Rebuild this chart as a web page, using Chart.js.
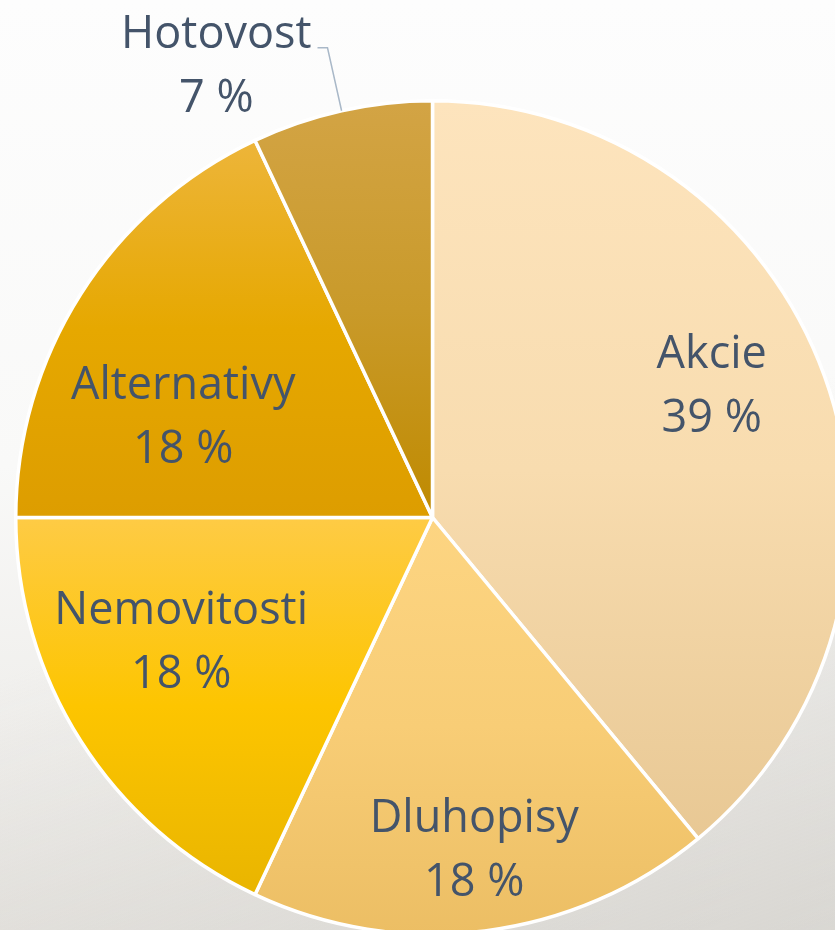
<!DOCTYPE html>
<html lang="cs">
<head>
<meta charset="utf-8">
<title>Alokace portfolia</title>
<script src="https://cdn.jsdelivr.net/npm/chart.js@4.4.1/dist/chart.umd.min.js"></script>
<style>
  html, body { margin: 0; padding: 0; width: 835px; height: 930px; overflow: hidden; }
  body {
    background:
      linear-gradient(160deg, rgba(255,255,255,0) 55%, rgba(205,203,198,0.55) 100%),
      linear-gradient(180deg, #fdfdfd 0%, #f9f9f8 50%, #e8e6e2 100%);
  }
  #wrap { position: absolute; left: 0; top: 0; width: 900px; height: 1000px; }
</style>
</head>
<body>
<div id="wrap"><canvas id="graf" width="900" height="1000"></canvas></div>
<script>
// data
const kategorie = ['Akcie', 'Dluhopisy', 'Nemovitosti', 'Alternativy', 'Hotovost'];
const podily = [39, 18, 18, 18, 7];
const barvyNahore = ['#fde4bd', '#fdd582', '#fecb45', '#edb53a', '#d3a445'];
const barvyStred  = ['#f8dcaf', '#f8cd76', '#fdc500', '#e6a800', '#c99a2a'];
const barvyDole   = ['#e8c894', '#ecbe64', '#e9b500', '#dd9d00', '#bf8a00'];

// umisteni popisku: podil polomeru a posun uhlu (stupne), posledni je venku s vodici carou
const popisPolomer = [0.743, 0.80, 0.671, 0.647, null];
const popisPosun = [-5.8, 0, 6.4, -10, 0];

const PISMO = '45px "Open Sans", sans-serif';
const TEXT = '#44546a';
const RADEK = 64;

function rozsahY(el) {
  // svisly rozsah vysece kvuli prechodu barvy
  let min = el.y, max = el.y;
  for (let i = 0; i <= 60; i++) {
    const a = el.startAngle + (el.endAngle - el.startAngle) * i / 60;
    const y = el.y + el.outerRadius * Math.sin(a);
    min = Math.min(min, y); max = Math.max(max, y);
  }
  return [min, max];
}

const prechody = {
  id: 'prechody',
  beforeDatasetsDraw(chart) {
    const ctx = chart.ctx;
    chart.getDatasetMeta(0).data.forEach((el, i) => {
      const [y0, y1] = rozsahY(el);
      const g = ctx.createLinearGradient(0, y0, 0, y1);
      g.addColorStop(0, barvyNahore[i]);
      g.addColorStop(0.5, barvyStred[i]);
      g.addColorStop(1, barvyDole[i]);
      el.options.backgroundColor = g;
    });
  }
};

const popisky = {
  id: 'popisky',
  afterDatasetsDraw(chart) {
    const ctx = chart.ctx;
    ctx.save();
    ctx.font = PISMO;
    ctx.fillStyle = TEXT;
    ctx.textAlign = 'center';
    ctx.textBaseline = 'alphabetic';
    chart.getDatasetMeta(0).data.forEach((el, i) => {
      const stred = (el.startAngle + el.endAngle) / 2;
      const r = el.outerRadius;
      const t1 = kategorie[i], t2 = podily[i] + ' %';
      if (popisPolomer[i] !== null) {
        const a = stred + popisPosun[i] * Math.PI / 180;
        const x = el.x + r * popisPolomer[i] * Math.cos(a);
        const y = el.y + r * popisPolomer[i] * Math.sin(a);
        ctx.fillText(t1, x, y - RADEK / 2 + 16);
        ctx.fillText(t2, x, y + RADEK / 2 + 16);
      } else {
        // vodici cara ven a doleva
        const x0 = el.x + r * Math.cos(stred), y0 = el.y + r * Math.sin(stred);
        const x1 = el.x + r * 1.155 * Math.cos(stred), y1 = el.y + r * 1.155 * Math.sin(stred);
        ctx.strokeStyle = '#a9b8c8';
        ctx.lineWidth = 1.5;
        ctx.beginPath();
        ctx.moveTo(x0, y0); ctx.lineTo(x1, y1); ctx.lineTo(x1 - 10, y1);
        ctx.stroke();
        const w = Math.max(ctx.measureText(t1).width, ctx.measureText(t2).width);
        const cx = x1 - 16 - w / 2;
        ctx.fillText(t1, cx, y1);
        ctx.fillText(t2, cx, y1 + RADEK);
      }
    });
    ctx.restore();
  }
};

new Chart(document.getElementById('graf'), {
  type: 'pie',
  data: {
    labels: kategorie,
    datasets: [{
      data: podily,
      backgroundColor: barvyNahore,
      borderColor: '#ffffff',
      borderWidth: 3.5
    }]
  },
  options: {
    responsive: false,
    animation: false,
    layout: { padding: { left: 14, top: 99, right: 49, bottom: 64 } },
    plugins: { legend: { display: false }, tooltip: { enabled: false } }
  },
  plugins: [prechody, popisky]
});
</script>
</body>
</html>
